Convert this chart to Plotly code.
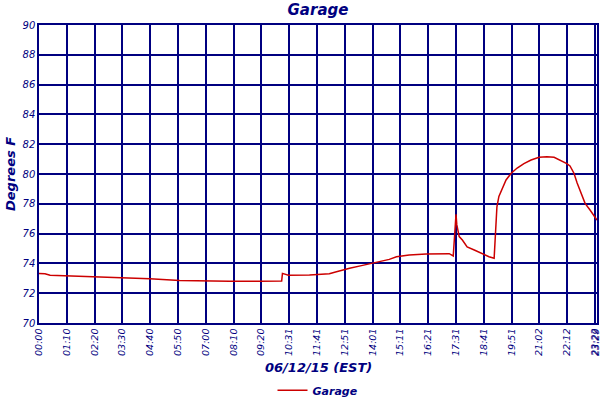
import plotly.graph_objects as go

# sample time (minutes-ish axis units) and temperature readings (deg F)
minutes = [0, 15, 28, 78, 141, 204, 279, 354, 417, 480, 555, 611, 613, 628, 681, 731,
           749, 764, 782, 812, 839, 882, 900, 932, 975, 1033, 1043, 1048, 1050, 1052,
           1058, 1066, 1078, 1096, 1113, 1133, 1146, 1150, 1153, 1158, 1164, 1176, 1189,
           1204, 1221, 1239, 1259, 1279, 1297, 1314, 1329, 1337, 1347, 1355, 1365, 1375,
           1387, 1400, 1405]
temps = [73.33, 73.3, 73.2, 73.15, 73.07, 73.05, 72.97, 72.85, 72.8, 72.8, 72.8, 72.82,
         73.33, 73.2, 73.22, 73.3, 73.44, 73.56, 73.67, 73.85, 74.0, 74.27, 74.45, 74.56,
         74.63, 74.65, 74.5, 76.5, 77.3, 76.6, 75.8, 75.57, 75.1, 74.9, 74.68, 74.45,
         74.34, 76.0, 77.8, 78.5, 78.9, 79.6, 80.05, 80.4, 80.7, 80.94, 81.12, 81.16,
         81.12, 80.9, 80.7, 80.54, 80.05, 79.4, 78.7, 78.03, 77.6, 77.13, 76.9]

tick_vals = [0, 70, 140, 210, 280, 350, 420, 490, 560, 630, 700, 770, 840, 910, 980,
             1050, 1120, 1190, 1260, 1330, 1400, 1403]
tick_text = ["00:00", "01:10", "02:20", "03:30", "04:40", "05:50", "07:00", "08:10",
             "09:20", "10:31", "11:41", "12:51", "14:01", "15:11", "16:21", "17:31",
             "18:41", "19:51", "21:02", "22:12", "23:22", "23:29"]
y_ticks = [70, 72, 74, 76, 78, 80, 82, 84, 86, 88, 90]

NAVY = "#000080"
FONT = "DejaVu Sans"

fig = go.Figure()
fig.add_trace(go.Scatter(x=minutes, y=temps, mode="lines", name="Garage",
                         line=dict(color="#CC0000", width=1.5)))

fig.update_layout(
    width=600, height=400,
    margin=dict(l=39, r=3, t=25, b=77, autoexpand=False),
    paper_bgcolor="white", plot_bgcolor="white",
    title=dict(text="<b><i>Garage</i></b>", x=0.53, xanchor="center", y=0.975, yanchor="middle",
               font=dict(family=FONT, size=15, color=NAVY)),
    showlegend=True,
    legend=dict(orientation="h", x=0.5, xanchor="center", y=-0.177, yanchor="top",
                font=dict(family=FONT, size=11, color=NAVY, style="italic", weight="bold"),
                itemwidth=30),
    xaxis=dict(range=[0, 1405], tickmode="array", tickvals=tick_vals, ticktext=tick_text,
               tickangle=-90, showgrid=True, gridcolor=NAVY, gridwidth=1.5, automargin=False,
               showline=True, linecolor=NAVY, linewidth=1.5, mirror=True, zeroline=False,
               ticklabeloverflow="allow",
               tickfont=dict(family=FONT, size=9.5, color=NAVY, style="italic"),
               ticks=""),
    yaxis=dict(range=[70, 90], tickmode="array", tickvals=y_ticks, automargin=False,
               showgrid=True, gridcolor=NAVY, gridwidth=1.5,
               showline=True, linecolor=NAVY, linewidth=1.5, mirror=True, zeroline=False,
               tickfont=dict(family=FONT, size=10, color=NAVY, style="italic"),
               ticks=""),
    annotations=[
        dict(text="<b><i>06/12/15 (EST)</i></b>", xref="paper", yref="paper",
             x=0.5, y=-0.148, xanchor="center", yanchor="middle", showarrow=False,
             font=dict(family=FONT, size=13, color=NAVY)),
        dict(text="<b><i>Degrees F</i></b>", xref="paper", yref="paper",
             x=-0.052, y=0.5, xanchor="center", yanchor="middle", showarrow=False,
             textangle=-90, font=dict(family=FONT, size=13, color=NAVY)),
    ],
)

fig.write_html("out.html", config={"displayModeBar": False},
               post_script="document.body.style.margin='0px';")
